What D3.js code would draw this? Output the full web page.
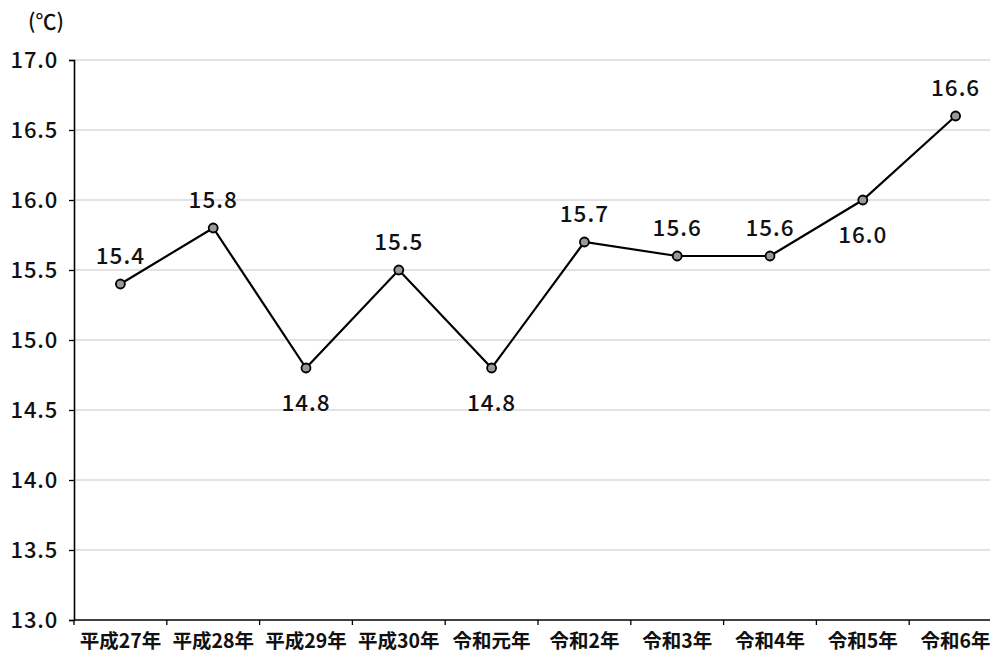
<!DOCTYPE html>
<html>
<head>
<meta charset="utf-8">
<script src="https://cdn.jsdelivr.net/npm/d3@7"></script>
<style>
  html, body { margin: 0; padding: 0; background: #fff; }
  svg { display: block; font-family: "Noto Sans CJK JP", "Noto Sans", sans-serif; }
</style>
</head>
<body>
<svg id="chart" width="990" height="655"></svg>
<script>
// Annual mean temperature (℃)
const categories = ["平成27年", "平成28年", "平成29年", "平成30年", "令和元年", "令和2年", "令和3年", "令和4年", "令和5年", "令和6年"];
const values = [15.4, 15.8, 14.8, 15.5, 14.8, 15.7, 15.6, 15.6, 16.0, 16.6];
const labelSide = ["above", "above", "below", "above", "below", "above", "above", "above", "below", "above"];
const yTicks = [13.0, 13.5, 14.0, 14.5, 15.0, 15.5, 16.0, 16.5, 17.0];
const unitLabel = "(℃)";

const svg = d3.select("#chart");
const margin = { left: 74, top: 60, right: -12, bottom: 35 };
const W = 990, H = 655;

const x = d3.scaleBand().domain(categories).range([margin.left, W - margin.right]).padding(0);
const y = d3.scaleLinear().domain([13, 17]).range([H - margin.bottom, margin.top]);

// horizontal gridlines
svg.append("g").selectAll("line").data(yTicks.filter(t => t > 13)).join("line")
  .attr("x1", margin.left).attr("x2", W - margin.right)
  .attr("y1", d => y(d)).attr("y2", d => y(d))
  .attr("stroke", "#d9d9d9").attr("stroke-width", 1.3);

// y axis
const yAxis = svg.append("g").attr("transform", `translate(${margin.left},0)`)
  .call(d3.axisLeft(y).tickValues(yTicks).tickFormat(d3.format(".1f")).tickSize(5).tickPadding(11));
yAxis.select(".domain").attr("stroke", "#000").attr("stroke-width", 1.6);
yAxis.selectAll(".tick line").attr("stroke", "#000").attr("stroke-width", 1.3);
yAxis.selectAll(".tick text").attr("font-size", 22).attr("font-weight", 500).attr("fill", "#111")
  .attr("letter-spacing", 0.8)
  .attr("font-family", "'Noto Sans CJK JP', sans-serif");

// x axis with boundary ticks between categories
const xAxisG = svg.append("g").attr("transform", `translate(0,${y(13)})`);
xAxisG.append("line").attr("x1", margin.left).attr("x2", W - margin.right)
  .attr("stroke", "#000").attr("stroke-width", 1.6);
xAxisG.selectAll("line.tk").data(categories).join("line").attr("class", "tk")
  .attr("x1", d => x(d)).attr("x2", d => x(d)).attr("y1", 0).attr("y2", 5)
  .attr("stroke", "#000").attr("stroke-width", 1.3);
xAxisG.selectAll("text").data(categories).join("text")
  .attr("x", d => x(d) + x.bandwidth() / 2).attr("y", 28)
  .attr("text-anchor", "middle").attr("font-size", 19.5).attr("font-weight", 700).attr("fill", "#111")
  .text(d => d);

// unit label
svg.append("text").attr("x", 28).attr("y", 29).attr("font-size", 21).attr("font-weight", 500)
  .attr("fill", "#111").text(unitLabel);

const cx = (d, i) => x(categories[i]) + x.bandwidth() / 2;

// series line
svg.append("path").datum(values)
  .attr("fill", "none").attr("stroke", "#000").attr("stroke-width", 2.2)
  .attr("d", d3.line().x((d, i) => cx(d, i)).y(d => y(d)));

// markers
svg.append("g").selectAll("circle").data(values).join("circle")
  .attr("cx", cx).attr("cy", d => y(d)).attr("r", 4.5)
  .attr("fill", "#999").attr("stroke", "#000").attr("stroke-width", 1.8);

// value labels
svg.append("g").selectAll("text").data(values).join("text")
  .attr("x", cx)
  .attr("y", (d, i) => y(d) + (labelSide[i] === "above" ? -20 : 43))
  .attr("text-anchor", "middle").attr("font-size", 22.5).attr("font-weight", 500).attr("fill", "#111")
  .attr("letter-spacing", 1)
  .text(d => d3.format(".1f")(d));
</script>
</body>
</html>
